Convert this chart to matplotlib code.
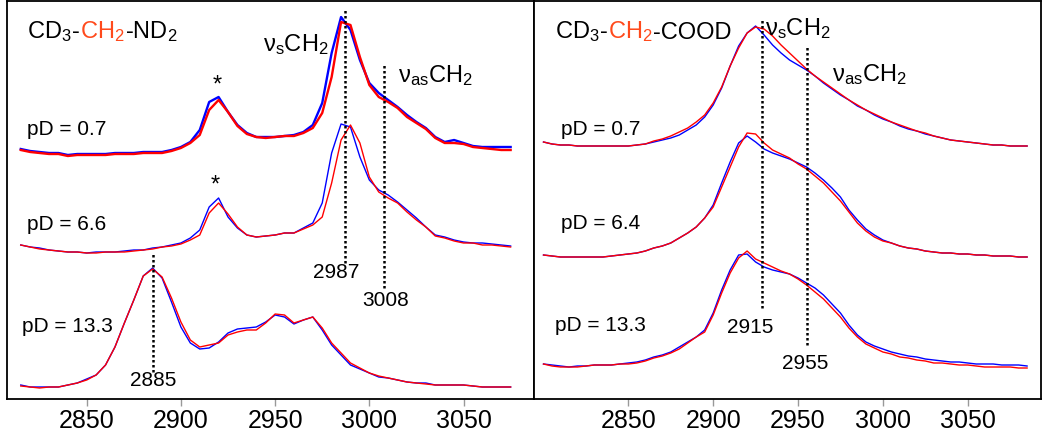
import numpy as np
import matplotlib
matplotlib.use("Agg")
import matplotlib.pyplot as plt

plt.rcParams['font.family'] = ['Liberation Sans', 'DejaVu Sans']
plt.rcParams['mathtext.fontset'] = 'custom'
plt.rcParams['mathtext.rm'] = 'Liberation Sans'
plt.rcParams['mathtext.it'] = 'Liberation Sans:italic'
plt.rcParams['mathtext.bf'] = 'Liberation Sans:bold'

# ---------------- data (a.u. relative to each trace baseline) ----------------
# left panel: CD3-CH2-ND2, wavenumber grid 2815..3075 step 5
wn_nd = np.arange(2815, 3076, 5)

nd_07_blue = [0.00, -0.02, -0.03, -0.04, -0.04, -0.06, -0.05, -0.05, -0.05, -0.05,
              -0.04, -0.04, -0.04, -0.03, -0.03, -0.03, -0.01, 0.02, 0.07, 0.19,
              0.47, 0.52, 0.37, 0.24, 0.16, 0.12, 0.12, 0.12, 0.13, 0.14,
              0.17, 0.24, 0.46, 0.96, 1.32, 1.19, 0.89, 0.66, 0.56, 0.49,
              0.42, 0.34, 0.27, 0.21, 0.12, 0.07, 0.09, 0.06, 0.03, 0.02,
              0.02, 0.02, 0.02]
nd_07_red = [-0.01, -0.03, -0.04, -0.05, -0.05, -0.07, -0.06, -0.06, -0.06, -0.06,
             -0.05, -0.05, -0.05, -0.04, -0.04, -0.04, -0.02, 0.01, 0.06, 0.14,
             0.39, 0.49, 0.37, 0.23, 0.15, 0.12, 0.11, 0.12, 0.13, 0.13,
             0.16, 0.21, 0.36, 0.72, 1.27, 1.24, 0.92, 0.64, 0.52, 0.47,
             0.41, 0.32, 0.26, 0.20, 0.11, 0.06, 0.06, 0.05, 0.02, 0.01,
             0.00, -0.01, -0.01]
nd_66_blue = [0.00, -0.02, -0.03, -0.05, -0.06, -0.07, -0.07, -0.08, -0.07, -0.07,
              -0.07, -0.06, -0.05, -0.05, -0.03, -0.02, 0.00, 0.02, 0.07, 0.15,
              0.38, 0.47, 0.28, 0.17, 0.10, 0.08, 0.09, 0.10, 0.12, 0.12,
              0.17, 0.22, 0.42, 0.92, 1.21, 1.18, 0.88, 0.65, 0.55, 0.50,
              0.43, 0.35, 0.27, 0.18, 0.10, 0.08, 0.05, 0.03, 0.02, 0.02,
              0.01, 0.00, -0.01]
nd_66_red = [0.00, -0.02, -0.04, -0.05, -0.06, -0.07, -0.07, -0.08, -0.08, -0.07,
             -0.07, -0.07, -0.06, -0.05, -0.04, -0.02, -0.01, 0.01, 0.05, 0.10,
             0.32, 0.42, 0.31, 0.18, 0.10, 0.08, 0.09, 0.10, 0.12, 0.12,
             0.16, 0.20, 0.28, 0.62, 1.05, 1.20, 1.02, 0.68, 0.53, 0.47,
             0.42, 0.33, 0.25, 0.18, 0.09, 0.07, 0.04, 0.02, 0.02, 0.00,
             0.00, -0.01, -0.02]
nd_133_blue = [0.01, -0.01, -0.01, -0.01, -0.01, 0.01, 0.03, 0.07, 0.11, 0.21,
               0.39, 0.63, 0.86, 1.10, 1.18, 1.08, 0.84, 0.59, 0.43, 0.37,
               0.38, 0.44, 0.53, 0.57, 0.58, 0.59, 0.64, 0.71, 0.69, 0.62,
               0.66, 0.69, 0.56, 0.41, 0.31, 0.21, 0.17, 0.13, 0.09, 0.08,
               0.06, 0.04, 0.03, 0.03, 0.01, 0.01, 0.01, 0.01, 0.00, -0.01,
               -0.01, -0.01, -0.01]
nd_133_red = [0.00, -0.01, -0.02, -0.01, -0.01, 0.01, 0.03, 0.06, 0.11, 0.21,
              0.39, 0.63, 0.86, 1.10, 1.17, 1.09, 0.88, 0.64, 0.46, 0.39,
              0.41, 0.43, 0.51, 0.54, 0.56, 0.56, 0.63, 0.72, 0.71, 0.63,
              0.66, 0.69, 0.58, 0.43, 0.33, 0.23, 0.18, 0.13, 0.10, 0.08,
              0.06, 0.04, 0.03, 0.02, 0.01, 0.01, 0.01, 0.01, 0.00, -0.01,
              -0.01, -0.01, -0.01]

# right panel: CD3-CH2-COOD, wavenumber grid 2800..3085 step 5
wn_cood = np.arange(2800, 3086, 5)

cood_07_blue = [0.01, -0.01, -0.02, -0.02, -0.03, -0.03, -0.03, -0.03, -0.03, -0.03,
                -0.03, -0.02, -0.01, 0.01, 0.03, 0.05, 0.08, 0.13, 0.18, 0.26,
                0.38, 0.55, 0.77, 0.97, 1.10, 1.17, 1.08, 0.98, 0.90, 0.83,
                0.78, 0.73, 0.67, 0.60, 0.54, 0.48, 0.43, 0.37, 0.33, 0.28,
                0.24, 0.21, 0.17, 0.14, 0.12, 0.09, 0.07, 0.05, 0.03, 0.02,
                0.01, 0.00, -0.01, -0.02, -0.02, -0.03, -0.03, -0.03]
cood_07_red = [0.01, -0.01, -0.02, -0.02, -0.03, -0.03, -0.03, -0.03, -0.03, -0.03,
               -0.03, -0.02, -0.01, 0.02, 0.04, 0.07, 0.11, 0.15, 0.21, 0.28,
               0.40, 0.56, 0.77, 0.95, 1.10, 1.16, 1.14, 1.07, 0.98, 0.90,
               0.82, 0.74, 0.67, 0.61, 0.55, 0.49, 0.43, 0.38, 0.33, 0.29,
               0.25, 0.21, 0.18, 0.15, 0.12, 0.10, 0.07, 0.05, 0.03, 0.02,
               0.01, 0.00, -0.01, -0.02, -0.02, -0.03, -0.03, -0.03]
cood_64_blue = [0.01, 0.00, -0.01, -0.01, -0.01, -0.01, -0.01, -0.01, 0.00, 0.01,
                0.02, 0.03, 0.05, 0.08, 0.10, 0.13, 0.18, 0.23, 0.29, 0.38,
                0.51, 0.73, 0.94, 1.13, 1.20, 1.14, 1.07, 1.03, 1.00, 0.97,
                0.93, 0.89, 0.83, 0.76, 0.68, 0.59, 0.46, 0.36, 0.27, 0.21,
                0.16, 0.13, 0.10, 0.08, 0.07, 0.05, 0.04, 0.03, 0.03, 0.02,
                0.02, 0.01, 0.01, 0.00, 0.00, 0.00, -0.01, -0.01]
cood_64_red = [0.01, 0.00, -0.01, -0.01, -0.01, -0.01, -0.01, -0.01, 0.00, 0.01,
               0.02, 0.03, 0.05, 0.08, 0.10, 0.13, 0.18, 0.23, 0.29, 0.38,
               0.49, 0.69, 0.89, 1.09, 1.23, 1.22, 1.13, 1.06, 1.02, 0.98,
               0.92, 0.87, 0.80, 0.73, 0.64, 0.55, 0.44, 0.33, 0.25, 0.19,
               0.15, 0.13, 0.10, 0.08, 0.07, 0.05, 0.04, 0.03, 0.03, 0.02,
               0.02, 0.01, 0.01, 0.00, 0.00, 0.00, -0.01, -0.01]
cood_133_blue = [0.01, 0.00, -0.01, -0.02, -0.01, -0.01, 0.00, 0.00, 0.00, 0.01,
                 0.02, 0.03, 0.05, 0.08, 0.10, 0.13, 0.18, 0.23, 0.28, 0.35,
                 0.52, 0.75, 0.95, 1.10, 1.11, 1.03, 0.98, 0.95, 0.93, 0.91,
                 0.87, 0.82, 0.77, 0.70, 0.61, 0.52, 0.40, 0.30, 0.23, 0.19,
                 0.16, 0.13, 0.11, 0.09, 0.08, 0.06, 0.05, 0.04, 0.03, 0.03,
                 0.02, 0.01, 0.01, 0.01, 0.00, 0.00, 0.00, -0.01]
cood_133_red = [0.01, -0.01, -0.02, -0.02, -0.02, -0.01, 0.00, 0.00, 0.00, 0.01,
                0.01, 0.02, 0.04, 0.07, 0.09, 0.12, 0.16, 0.22, 0.28, 0.33,
                0.50, 0.72, 0.92, 1.07, 1.14, 1.06, 1.02, 0.98, 0.94, 0.91,
                0.86, 0.80, 0.73, 0.66, 0.57, 0.48, 0.37, 0.28, 0.21, 0.17,
                0.13, 0.11, 0.08, 0.07, 0.05, 0.04, 0.02, 0.02, 0.01, 0.00,
                0.00, -0.01, -0.02, -0.02, -0.02, -0.02, -0.03, -0.03]

# vertical stacking offsets of each spectrum (top, middle, bottom)
nd_offsets = [2.49, 1.53, 0.12]
cood_offsets = [2.55, 1.42, 0.33]
nd_labels = ['pD = 0.7', 'pD = 6.6', 'pD = 13.3']
cood_labels = ['pD = 0.7', 'pD = 6.4', 'pD = 13.3']

xticks = [2850, 2900, 2950, 3000, 3050]
BLUE = '#0000ff'
RED = '#ff0000'
ORANGE = '#ff4a1c'

fig = plt.figure(figsize=(10.5, 4.4), dpi=100)
ax1 = fig.add_axes([7 / 1050, 1 - 399 / 440, 527 / 1050, 398 / 440])
ax2 = fig.add_axes([534 / 1050, 1 - 399 / 440, 507 / 1050, 398 / 440])

for ax in (ax1, ax2):
    ax.set_ylim(-0.01, 3.97)
    ax.set_yticks([])
    ax.set_xticks(xticks)
    ax.tick_params(axis='x', direction='out', length=5, width=1, color='#999999',
                   labelsize=18, pad=2)
    for s in ax.spines.values():
        s.set_linewidth(1.3)
        s.set_color('black')

ax1.set_xlim(2807.7, 3087.4)
ax2.set_xlim(2794.4, 3093.2)

# left spectra
nd_traces = [(nd_07_blue, nd_07_red, 1.7), (nd_66_blue, nd_66_red, 1.0), (nd_133_blue, nd_133_red, 1.0)]
for (b, r, lw), off in zip(nd_traces, nd_offsets):
    ax1.plot(wn_nd, np.array(b) + off, color=BLUE, lw=lw)
    ax1.plot(wn_nd, np.array(r) + off, color=RED, lw=lw)

cood_traces = [(cood_07_blue, cood_07_red), (cood_64_blue, cood_64_red), (cood_133_blue, cood_133_red)]
for (b, r), off in zip(cood_traces, cood_offsets):
    ax2.plot(wn_cood, np.array(b) + off, color=BLUE, lw=1.0)
    ax2.plot(wn_cood, np.array(r) + off, color=RED, lw=1.0)

# dotted marker lines
dot = dict(color='black', lw=1.8, linestyle=(0, (1, 1)))
ax1.plot([2987, 2987], [1.35, 3.90], **dot)
ax1.plot([3008, 3008], [1.10, 3.35], **dot)
ax1.plot([2885, 2885], [0.26, 1.45], **dot)
ax2.plot([2928.6, 2928.6], [0.90, 3.80], **dot)
ax2.plot([2955, 2955], [0.53, 3.53], **dot)

# pD labels
for ax, xs, ys, labels in [(ax1, [2818.3, 2818.3, 2815.7], [2.69, 1.74, 0.72], nd_labels),
                           (ax2, [2810.3, 2810.3, 2806.8], [2.69, 1.75, 0.73], cood_labels)]:
    for x, y, t in zip(xs, ys, labels):
        ax.text(x, y, t, fontsize=15, va='center', ha='left')

# peak position numbers
ax1.text(2982.3, 1.26, '2987', fontsize=15, ha='center', va='center')
ax1.text(3008.9, 0.98, '3008', fontsize=15, ha='center', va='center')
ax1.text(2885.2, 0.18, '2885', fontsize=15, ha='center', va='center')
ax2.text(2921.7, 0.71, '2915', fontsize=15, ha='center', va='center')
ax2.text(2954.1, 0.35, '2955', fontsize=15, ha='center', va='center')

# mode labels
ax1.text(2943.5, 3.53, 'ν$_\\mathrm{s}$CH$_\\mathrm{2}$', fontsize=17, ha='left', va='center')
ax1.text(3015.2, 3.22, 'ν$_\\mathrm{as}$CH$_\\mathrm{2}$', fontsize=17, ha='left', va='center')
ax2.text(2930.6, 3.69, 'ν$_\\mathrm{s}$CH$_\\mathrm{2}$', fontsize=17, ha='left', va='center')
ax2.text(2970.0, 3.23, 'ν$_\\mathrm{as}$CH$_\\mathrm{2}$', fontsize=17, ha='left', va='center')

# asterisks
ax1.text(2919.2, 3.12, '*', fontsize=17, ha='center', va='center')
ax1.text(2918.1, 2.12, '*', fontsize=17, ha='center', va='center')


def molecule(ax, x, y, tail):
    t1 = ax.text(x, y, 'CD$_\\mathrm{3}$-', fontsize=17, va='baseline', ha='left')
    t2 = ax.annotate('CH$_\\mathrm{2}$', xy=(1, 0), xycoords=t1, va='bottom', ha='left',
                     fontsize=17, color=ORANGE)
    ax.annotate(tail, xy=(1, 0), xycoords=t2, va='bottom', ha='left', fontsize=17)


molecule(ax1, 2818.3, 3.60, '-ND$_\\mathrm{2}$')
molecule(ax2, 2806.8, 3.60, '-COOD')

fig.savefig('out.png', dpi=100)
